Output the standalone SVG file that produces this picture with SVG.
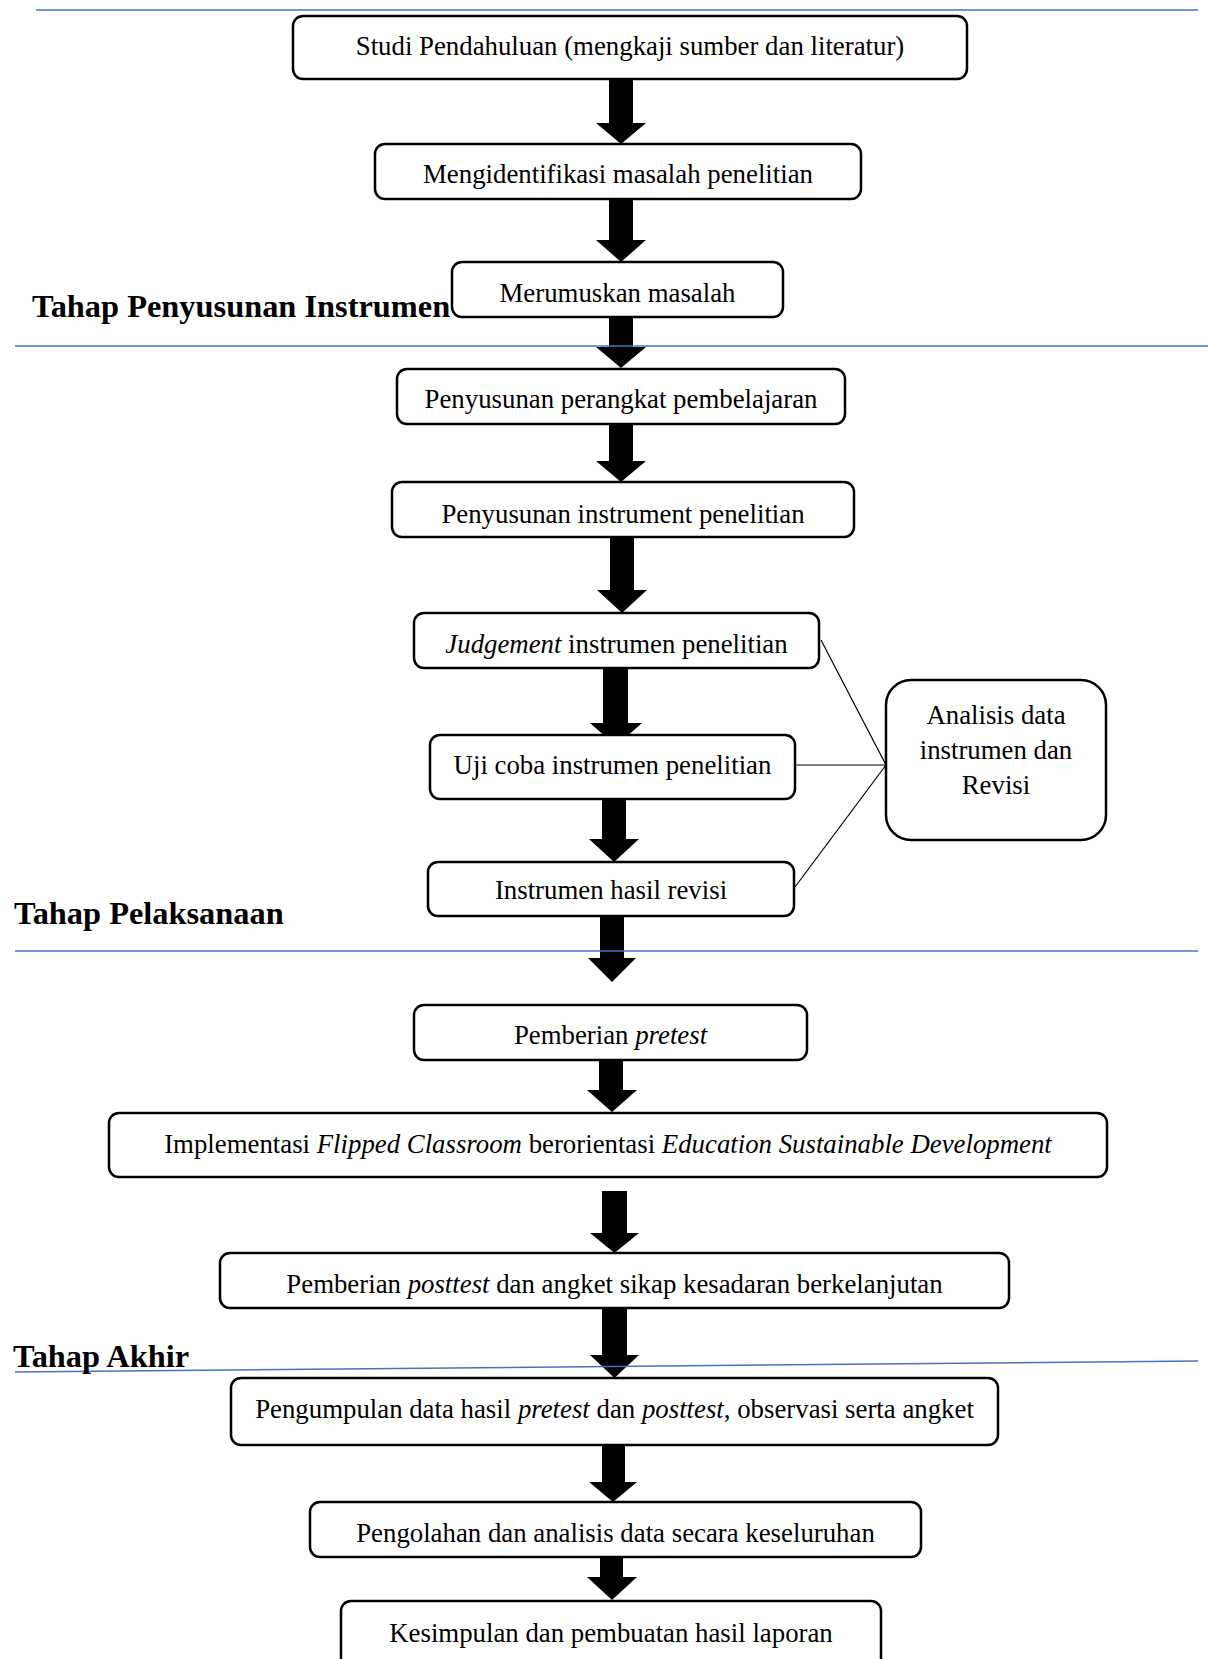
<svg xmlns="http://www.w3.org/2000/svg" width="1208" height="1659" viewBox="0 0 1208 1659">
<style>
.box{fill:#fff;stroke:#000;stroke-width:2.5}
.t{font-family:"Liberation Serif","Times New Roman",serif;font-size:26.8px;fill:#000;text-anchor:middle}
.h{font-family:"Liberation Serif","Times New Roman",serif;font-size:32.4px;font-weight:bold;fill:#000}
.arr{fill:#000}
.thin{stroke:#000;stroke-width:1.2;fill:none}
.blue{stroke:#4472C4;stroke-width:1.5;fill:none}
</style>
<rect width="1208" height="1659" fill="#fff"/>
<g id="connectors">
<polygon class="arr" points="609,79 633,79 633,123 646,123 621,144 596,123 609,123"/>
<polygon class="arr" points="609,199 633,199 633,240 646,240 621,262 596,240 609,240"/>
<polygon class="arr" points="609,317 633,317 633,347 646,347 621,368 596,347 609,347"/>
<polygon class="arr" points="609,424 633,424 633,461 646,461 621,482 596,461 609,461"/>
<polygon class="arr" points="610,537 634,537 634,590 647,590 622,613 597,590 610,590"/>
<polygon class="arr" points="603,668 628,668 628,723 642,723 616,746 590,723 603,723"/>
<polygon class="arr" points="602,799 626,799 626,839 639,839 614,862 589,839 602,839"/>
<polygon class="arr" points="600,916 624,916 624,958 636,958 612,982 588,958 600,958"/>
<polygon class="arr" points="599,1057 623,1057 623,1090 637,1090 612,1112 587,1090 599,1090"/>
<polygon class="arr" points="602,1191 627,1191 627,1233 639,1233 614.5,1253 590,1233 602,1233"/>
<polygon class="arr" points="602,1308 627,1308 627,1355 639,1355 614.5,1378 590,1355 602,1355"/>
<polygon class="arr" points="602,1445 625,1445 625,1482 637,1482 613,1502 589,1482 602,1482"/>
<polygon class="arr" points="600,1557 623,1557 623,1577 637,1577 612,1600 587,1577 600,1577"/>
<line class="thin" x1="821" y1="640" x2="886" y2="765"/>
<line class="thin" x1="795" y1="765" x2="886" y2="765"/>
<line class="thin" x1="795" y1="887" x2="886" y2="765"/>
</g>
<g id="n1"><rect class="box" x="293" y="16" width="674" height="63" rx="10"/><text class="t" x="630" y="55">Studi Pendahuluan (mengkaji sumber dan literatur)</text></g>
<g id="n2"><rect class="box" x="375" y="144" width="486" height="55" rx="10"/><text class="t" x="618" y="183">Mengidentifikasi masalah penelitian</text></g>
<g id="n3"><rect class="box" x="452" y="262" width="331" height="55" rx="10"/><text class="t" x="617.5" y="302">Merumuskan masalah</text></g>
<g id="n4"><rect class="box" x="397" y="369" width="448" height="55" rx="10"/><text class="t" x="621" y="408">Penyusunan perangkat pembelajaran</text></g>
<g id="n5"><rect class="box" x="392" y="482" width="462" height="55" rx="10"/><text class="t" x="623" y="523">Penyusunan instrument penelitian</text></g>
<g id="n6"><rect class="box" x="414" y="613" width="405" height="55" rx="10"/><text class="t" x="616.5" y="653"><tspan font-style="italic">Judgement</tspan> instrumen penelitian</text></g>
<g id="n7"><rect class="box" x="430" y="735" width="365" height="64" rx="10"/><text class="t" x="612.5" y="774">Uji coba instrumen penelitian</text></g>
<g id="n8"><rect class="box" x="428" y="862" width="366" height="54" rx="10"/><text class="t" x="611" y="899">Instrumen hasil revisi</text></g>
<g id="nA"><rect class="box" x="886" y="680" width="220" height="160" rx="25"/><text class="t" x="996" y="724">Analisis data</text><text class="t" x="996" y="759">instrumen dan</text><text class="t" x="996" y="794">Revisi</text></g>
<g id="n9"><rect class="box" x="414" y="1005" width="393" height="55" rx="10"/><text class="t" x="610.5" y="1044">Pemberian <tspan font-style="italic">pretest</tspan></text></g>
<g id="n10"><rect class="box" x="109" y="1113" width="998" height="64" rx="10"/><text class="t" x="608" y="1153">Implementasi <tspan font-style="italic">Flipped Classroom</tspan> berorientasi <tspan font-style="italic">Education Sustainable Development</tspan></text></g>
<g id="n11"><rect class="box" x="220" y="1253" width="789" height="55" rx="10"/><text class="t" x="614.5" y="1293">Pemberian <tspan font-style="italic">posttest</tspan> dan angket sikap kesadaran berkelanjutan</text></g>
<g id="n12"><rect class="box" x="231" y="1378" width="767" height="67" rx="10"/><text class="t" x="614.5" y="1418">Pengumpulan data hasil <tspan font-style="italic">pretest</tspan> dan <tspan font-style="italic">posttest</tspan>, observasi serta angket</text></g>
<g id="n13"><rect class="box" x="310" y="1502" width="611" height="55" rx="10"/><text class="t" x="615.5" y="1542">Pengolahan dan analisis data secara keseluruhan</text></g>
<g id="n14"><rect class="box" x="341" y="1601" width="540" height="75" rx="10"/><text class="t" x="611" y="1642">Kesimpulan dan pembuatan hasil laporan</text></g>
<g id="stages">
<line class="blue" x1="36" y1="10" x2="1198" y2="10"/>
<line class="blue" x1="15" y1="346" x2="1208" y2="346"/>
<line class="blue" x1="15" y1="951" x2="1198" y2="951"/>
<line class="blue" x1="15" y1="1372" x2="1198" y2="1361"/>
<text class="h" x="32" y="317">Tahap Penyusunan Instrumen</text>
<text class="h" x="14" y="924">Tahap Pelaksanaan</text>
<text class="h" x="13" y="1367">Tahap Akhir</text>
</g>
</svg>
